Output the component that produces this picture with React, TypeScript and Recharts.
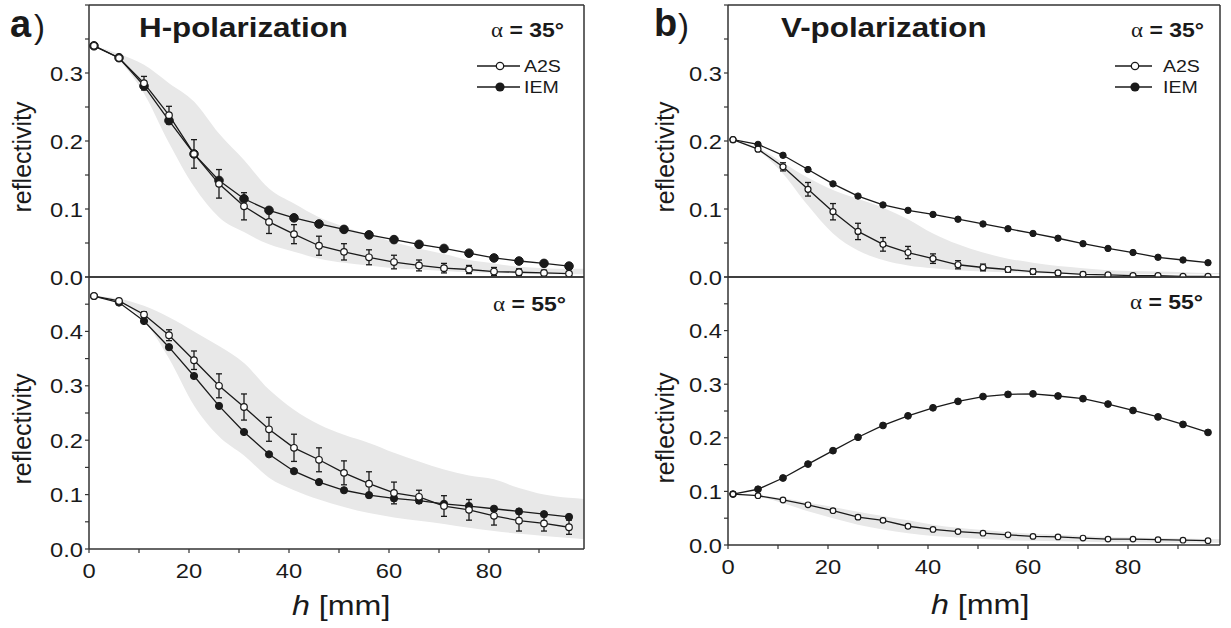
import React from 'react';
import { ComposedChart, Line, Area, XAxis, YAxis, ErrorBar } from 'recharts';

// depth h [mm] of the sampled points
const hValues = [1, 6, 11, 16, 21, 26, 31, 36, 41, 46, 51, 56, 61, 66, 71, 76, 81, 86, 91, 96];
const bandHA = [...hValues, 99];
const bandHB = [...hValues, 98.4];

// a) H-polarization, alpha = 35
const hTopIEM = [0.34, 0.3225, 0.281, 0.23, 0.181, 0.142, 0.115, 0.098, 0.087, 0.078, 0.07, 0.062, 0.055, 0.048, 0.042, 0.035, 0.028, 0.0235, 0.02, 0.016];
const hTopA2S = [0.34, 0.322, 0.285, 0.238, 0.181, 0.137, 0.104, 0.081, 0.063, 0.046, 0.037, 0.029, 0.022, 0.017, 0.013, 0.011, 0.008, 0.007, 0.006, 0.005];
const hTopErr = [0, 0, 0.01, 0.013, 0.021, 0.021, 0.02, 0.017, 0.014, 0.014, 0.012, 0.011, 0.01, 0.008, 0.007, 0.006, 0.006, 0.005, 0.004, 0.003];
const hTopBandLo = [0.34, 0.318, 0.27, 0.197, 0.133, 0.088, 0.066, 0.048, 0.037, 0.027, 0.021, 0.017, 0.013, 0.011, 0.009, 0.007, 0.006, 0.005, 0.004, 0.004, 0.004];
const hTopBandHi = [0.34, 0.328, 0.312, 0.285, 0.258, 0.211, 0.172, 0.13, 0.108, 0.088, 0.074, 0.062, 0.051, 0.042, 0.034, 0.025, 0.02, 0.015, 0.013, 0.012, 0.012];

// a) H-polarization, alpha = 55
const hBotIEM = [0.465, 0.453, 0.419, 0.371, 0.318, 0.263, 0.215, 0.174, 0.143, 0.123, 0.108, 0.099, 0.093, 0.089, 0.083, 0.079, 0.074, 0.069, 0.064, 0.059];
const hBotA2S = [0.465, 0.456, 0.431, 0.393, 0.347, 0.3, 0.261, 0.22, 0.186, 0.164, 0.14, 0.12, 0.103, 0.096, 0.079, 0.072, 0.061, 0.052, 0.047, 0.04];
const hBotErr = [0, 0, 0.005, 0.01, 0.017, 0.022, 0.024, 0.022, 0.025, 0.022, 0.022, 0.022, 0.02, 0.012, 0.019, 0.019, 0.017, 0.019, 0.014, 0.013];
const hBotBandLo = [0.465, 0.454, 0.42, 0.35, 0.264, 0.207, 0.172, 0.131, 0.108, 0.091, 0.077, 0.066, 0.058, 0.052, 0.046, 0.039, 0.033, 0.028, 0.024, 0.02, 0.018];
const hBotBandHi = [0.465, 0.46, 0.447, 0.426, 0.4, 0.373, 0.342, 0.293, 0.256, 0.229, 0.21, 0.195, 0.177, 0.161, 0.146, 0.135, 0.128, 0.112, 0.1, 0.094, 0.092];

// b) V-polarization, alpha = 35
const vTopIEM = [0.202, 0.195, 0.179, 0.158, 0.137, 0.119, 0.106, 0.098, 0.092, 0.085, 0.078, 0.071, 0.064, 0.057, 0.049, 0.042, 0.036, 0.029, 0.025, 0.021];
const vTopA2S = [0.202, 0.188, 0.162, 0.129, 0.096, 0.067, 0.048, 0.036, 0.027, 0.018, 0.014, 0.011, 0.008, 0.006, 0.004, 0.003, 0.002, 0.002, 0.001, 0.001];
const vTopErr = [0, 0.002, 0.006, 0.01, 0.012, 0.012, 0.01, 0.009, 0.007, 0.006, 0.005, 0.004, 0.004, 0.003, 0.003, 0.002, 0.002, 0.002, 0.001, 0.001];
const vTopBandLo = [0.202, 0.186, 0.152, 0.105, 0.064, 0.039, 0.025, 0.017, 0.013, 0.01, 0.008, 0.007, 0.006, 0.005, 0.005, 0.004, 0.004, 0.004, 0.004, 0.004, 0.004];
const vTopBandHi = [0.202, 0.19, 0.168, 0.146, 0.128, 0.115, 0.102, 0.085, 0.064, 0.048, 0.036, 0.027, 0.021, 0.016, 0.013, 0.01, 0.009, 0.008, 0.007, 0.006, 0.006];

// b) V-polarization, alpha = 55
const vBotIEM = [0.095, 0.104, 0.125, 0.151, 0.176, 0.201, 0.223, 0.241, 0.256, 0.268, 0.277, 0.281, 0.282, 0.278, 0.273, 0.263, 0.251, 0.239, 0.225, 0.21];
const vBotA2S = [0.095, 0.092, 0.084, 0.075, 0.064, 0.052, 0.046, 0.035, 0.029, 0.025, 0.022, 0.019, 0.016, 0.015, 0.013, 0.011, 0.011, 0.01, 0.009, 0.008];
const vBotErr = [0, 0.001, 0.002, 0.002, 0.003, 0.003, 0.003, 0.003, 0.002, 0.002, 0.002, 0.002, 0.002, 0.002, 0.002, 0.001, 0.001, 0.001, 0.001, 0.001];
const vBotBandLo = [0.095, 0.09, 0.078, 0.063, 0.05, 0.038, 0.029, 0.022, 0.017, 0.014, 0.011, 0.009, 0.008, 0.007, 0.006, 0.005, 0.005, 0.004, 0.004, 0.004, 0.004];
const vBotBandHi = [0.095, 0.093, 0.087, 0.079, 0.071, 0.062, 0.054, 0.046, 0.038, 0.032, 0.028, 0.024, 0.021, 0.019, 0.017, 0.015, 0.014, 0.013, 0.012, 0.011, 0.011];

// axis ticks
const xTicks = [0, 10, 20, 30, 40, 50, 60, 70, 80, 90];
const xLabels = [0, 20, 40, 60, 80];
const yTicks04 = [0, 0.05, 0.1, 0.15, 0.2, 0.25, 0.3, 0.35, 0.4];
const yTicks05 = [0, 0.05, 0.1, 0.15, 0.2, 0.25, 0.3, 0.35, 0.4, 0.45, 0.5];

const FONT = '"Liberation Sans", Arial, sans-serif';
const INK = '#1a1a1a';
const axisStyle = { stroke: '#333', strokeWidth: 1.5 };
const tickStyle = { stroke: '#333', strokeWidth: 1.2 };

const rowsOf = (iem: number[], a2s: number[], err: number[]) =>
  hValues.map((h, i) => ({ h, iem: iem[i], a2s: a2s[i], err: err[i] }));
const bandOf = (hs: number[], lo: number[], hi: number[]) =>
  hs.map((h, i) => ({ h, lo: lo[i], hi: hi[i] }));

const makeYTick = (maxVal: number) => (props: any) => {
  const { x, y, payload } = props;
  const v = payload.value;
  const major = Math.abs(v * 10 - Math.round(v * 10)) < 1e-6 && v < maxVal - 1e-6;
  if (!major) return <g />;
  return (
    <text
      x={x}
      y={y}
      dy="0.36em"
      textAnchor="end"
      fontSize={21}
      fontFamily={FONT}
      fill={INK}
      transform={`translate(${x} ${y}) scale(1.13 1) translate(${-x} ${-y})`}
    >
      {v.toFixed(1)}
    </text>
  );
};

const XTick = (props: any) => {
  const { x, y, payload } = props;
  if (!xLabels.includes(payload.value)) return <g />;
  return (
    <text
      x={x}
      y={y}
      dy="0.71em"
      textAnchor="middle"
      fontSize={21}
      fontFamily={FONT}
      fill={INK}
      transform={`translate(${x} ${y}) scale(1.13 1) translate(${-x} ${-y})`}
    >
      {payload.value}
    </text>
  );
};

type SubProps = {
  left: number;
  top: number;
  width: number;
  height: number;
  margin: { top: number; right: number; bottom: number; left: number };
  xMax: number;
  yMax: number;
  yTicks: number[];
  rows: any[];
  band: any[];
  bottom: boolean;
  rIEM: number;
  rA2S: number;
};

const Sub = ({ left, top, width, height, margin, xMax, yMax, yTicks, rows, band, bottom, rIEM, rA2S }: SubProps) => (
  <div style={{ position: 'absolute', left, top }}>
    <ComposedChart width={width} height={height} data={rows} margin={margin}>
      <XAxis
        xAxisId="b"
        dataKey="h"
        type="number"
        domain={[0, xMax]}
        ticks={xTicks}
        interval={0}
        allowDataOverflow
        mirror={!bottom}
        height={bottom ? 40 : 30}
        tickSize={4}
        tickMargin={10}
        tick={bottom ? XTick : false}
        axisLine={axisStyle}
        tickLine={tickStyle}
      />
      <XAxis
        xAxisId="t"
        dataKey="h"
        orientation="top"
        type="number"
        domain={[0, xMax]}
        ticks={xTicks}
        interval={0}
        allowDataOverflow
        mirror
        tickSize={4}
        tick={false}
        axisLine={axisStyle}
        tickLine={tickStyle}
      />
      <YAxis
        yAxisId="l"
        type="number"
        domain={[0, yMax]}
        ticks={yTicks}
        interval={0}
        allowDataOverflow
        width={60}
        tickSize={4}
        tickMargin={2}
        tick={makeYTick(yMax)}
        axisLine={axisStyle}
        tickLine={tickStyle}
      />
      <YAxis
        yAxisId="r"
        orientation="right"
        type="number"
        domain={[0, yMax]}
        ticks={yTicks}
        interval={0}
        allowDataOverflow
        mirror
        tickSize={4}
        tick={false}
        axisLine={axisStyle}
        tickLine={tickStyle}
      />
      <Area
        xAxisId="b"
        yAxisId="l"
        data={band}
        dataKey={(d: any) => [d.lo, d.hi]}
        type="monotone"
        fill="#e8e8e8"
        fillOpacity={1}
        stroke="none"
        isAnimationActive={false}
      />
      <Line
        xAxisId="b"
        yAxisId="l"
        dataKey="iem"
        stroke={INK}
        strokeWidth={1.3}
        dot={{ r: rIEM, fill: INK, stroke: INK, strokeWidth: 1 }}
        isAnimationActive={false}
      />
      <Line
        xAxisId="b"
        yAxisId="l"
        dataKey="a2s"
        stroke={INK}
        strokeWidth={1.3}
        dot={{ r: rA2S, fill: '#fff', stroke: INK, strokeWidth: 1.2 }}
        isAnimationActive={false}
      >
        <ErrorBar dataKey="err" direction="y" width={3} stroke={INK} strokeWidth={1.3} />
      </Line>
    </ComposedChart>
  </div>
);

const Stretch = ({ x, y, s, children, ...rest }: any) => (
  <text x={x} y={y} transform={`translate(${x} ${y}) scale(${s} 1) translate(${-x} ${-y})`} fontFamily={FONT} fill={INK} {...rest}>
    {children}
  </text>
);

const LegendRows = ({ x1, x2, mx, tx }: { x1: number; x2: number; mx: number; tx: number }) => (
  <g>
    <line x1={x1} x2={x2} y1={66} y2={66} stroke={INK} strokeWidth={1.3} />
    <circle cx={mx} cy={66} r={3.7} fill="#fff" stroke={INK} strokeWidth={1.3} />
    <Stretch x={tx} y={72} s={1.15} fontSize={17}>A2S</Stretch>
    <line x1={x1} x2={x2} y1={87} y2={87} stroke={INK} strokeWidth={1.3} />
    <circle cx={mx} cy={87} r={4.6} fill={INK} />
    <Stretch x={tx} y={93} s={1.15} fontSize={17}>IEM</Stretch>
  </g>
);

const Alpha = ({ x, y, deg }: { x: number; y: number; deg: string }) => (
  <Stretch x={x} y={y} s={1.15} fontSize={20} textAnchor="end">
    <tspan fontFamily='"Liberation Serif", serif'>α</tspan>
    <tspan fontWeight="bold">{` = ${deg}°`}</tspan>
  </Stretch>
);

const YLabel = ({ cx, cy }: { cx: number; cy: number }) => (
  <text transform={`translate(${cx} ${cy}) rotate(-90)`} textAnchor="middle" dominantBaseline="central" fontSize={25} fontFamily={FONT} fill={INK}>
    reflectivity
  </text>
);

const XLabel = ({ x, y }: { x: number; y: number }) => (
  <Stretch x={x} y={y} s={1.15} fontSize={28}>
    <tspan fontStyle="italic">h</tspan>
    <tspan> [mm]</tspan>
  </Stretch>
);

const App = () => {
  const marginA = { top: 5, right: 16, bottom: 15, left: 29 };
  const marginA2 = { top: 5, right: 16, bottom: 0, left: 29 };
  const marginB = { top: 5, right: 10, bottom: 15, left: 28 };
  const marginB2 = { top: 5, right: 10, bottom: 0, left: 28 };
  return (
    <div style={{ position: 'absolute', left: 0, top: 0, width: 1231, height: 628, overflow: 'hidden', background: '#fff' }}>
      <Sub left={0} top={0} width={600} height={292} margin={marginA} xMax={99} yMax={0.4} yTicks={yTicks04}
        rows={rowsOf(hTopIEM, hTopA2S, hTopErr)} band={bandOf(bandHA, hTopBandLo, hTopBandHi)} bottom={false} rIEM={4.3} rA2S={3.3} />
      <Sub left={0} top={272} width={600} height={317} margin={marginA2} xMax={99} yMax={0.5} yTicks={yTicks05}
        rows={rowsOf(hBotIEM, hBotA2S, hBotErr)} band={bandOf(bandHA, hBotBandLo, hBotBandHi)} bottom rIEM={3.6} rA2S={3.3} />
      <Sub left={640} top={0} width={590} height={292} margin={marginB} xMax={98.4} yMax={0.4} yTicks={yTicks04}
        rows={rowsOf(vTopIEM, vTopA2S, vTopErr)} band={bandOf(bandHB, vTopBandLo, vTopBandHi)} bottom={false} rIEM={3.2} rA2S={3} />
      <Sub left={640} top={272} width={590} height={313} margin={marginB2} xMax={98.4} yMax={0.5} yTicks={yTicks05}
        rows={rowsOf(vBotIEM, vBotA2S, vBotErr)} band={bandOf(bandHB, vBotBandLo, vBotBandHi)} bottom rIEM={3.4} rA2S={2.8} />

      <svg width={1231} height={628} style={{ position: 'absolute', left: 0, top: 0, pointerEvents: 'none' }}>
        {/* panel a */}
        <text x={10} y={37} fontSize={38} fontWeight="bold" fontFamily={FONT} fill={INK}>a</text>
        <text x={34} y={38} fontSize={33} fontFamily={FONT} fill={INK}>)</text>
        <Stretch x={139} y={37} s={1.12} fontSize={28} fontWeight="bold">H-polarization</Stretch>
        <Alpha x={564} y={37} deg="35" />
        <Alpha x={566} y={311} deg="55" />
        <LegendRows x1={477} x2={520} mx={500} tx={524} />
        <YLabel cx={21.5} cy={157} />
        <YLabel cx={21.5} cy={429} />
        <XLabel x={292} y={615} />

        {/* panel b */}
        <text x={654} y={36} fontSize={38} fontWeight="bold" fontFamily={FONT} fill={INK}>b</text>
        <text x={678} y={37} fontSize={33} fontFamily={FONT} fill={INK}>)</text>
        <Stretch x={781} y={37} s={1.12} fontSize={28} fontWeight="bold">V-polarization</Stretch>
        <Alpha x={1204} y={37} deg="35" />
        <Alpha x={1203} y={309} deg="55" />
        <LegendRows x1={1115} x2={1152} mx={1135} tx={1163} />
        <YLabel cx={665} cy={157} />
        <YLabel cx={665} cy={428} />
        <XLabel x={931} y={614} />
      </svg>
    </div>
  );
};

export default App;
